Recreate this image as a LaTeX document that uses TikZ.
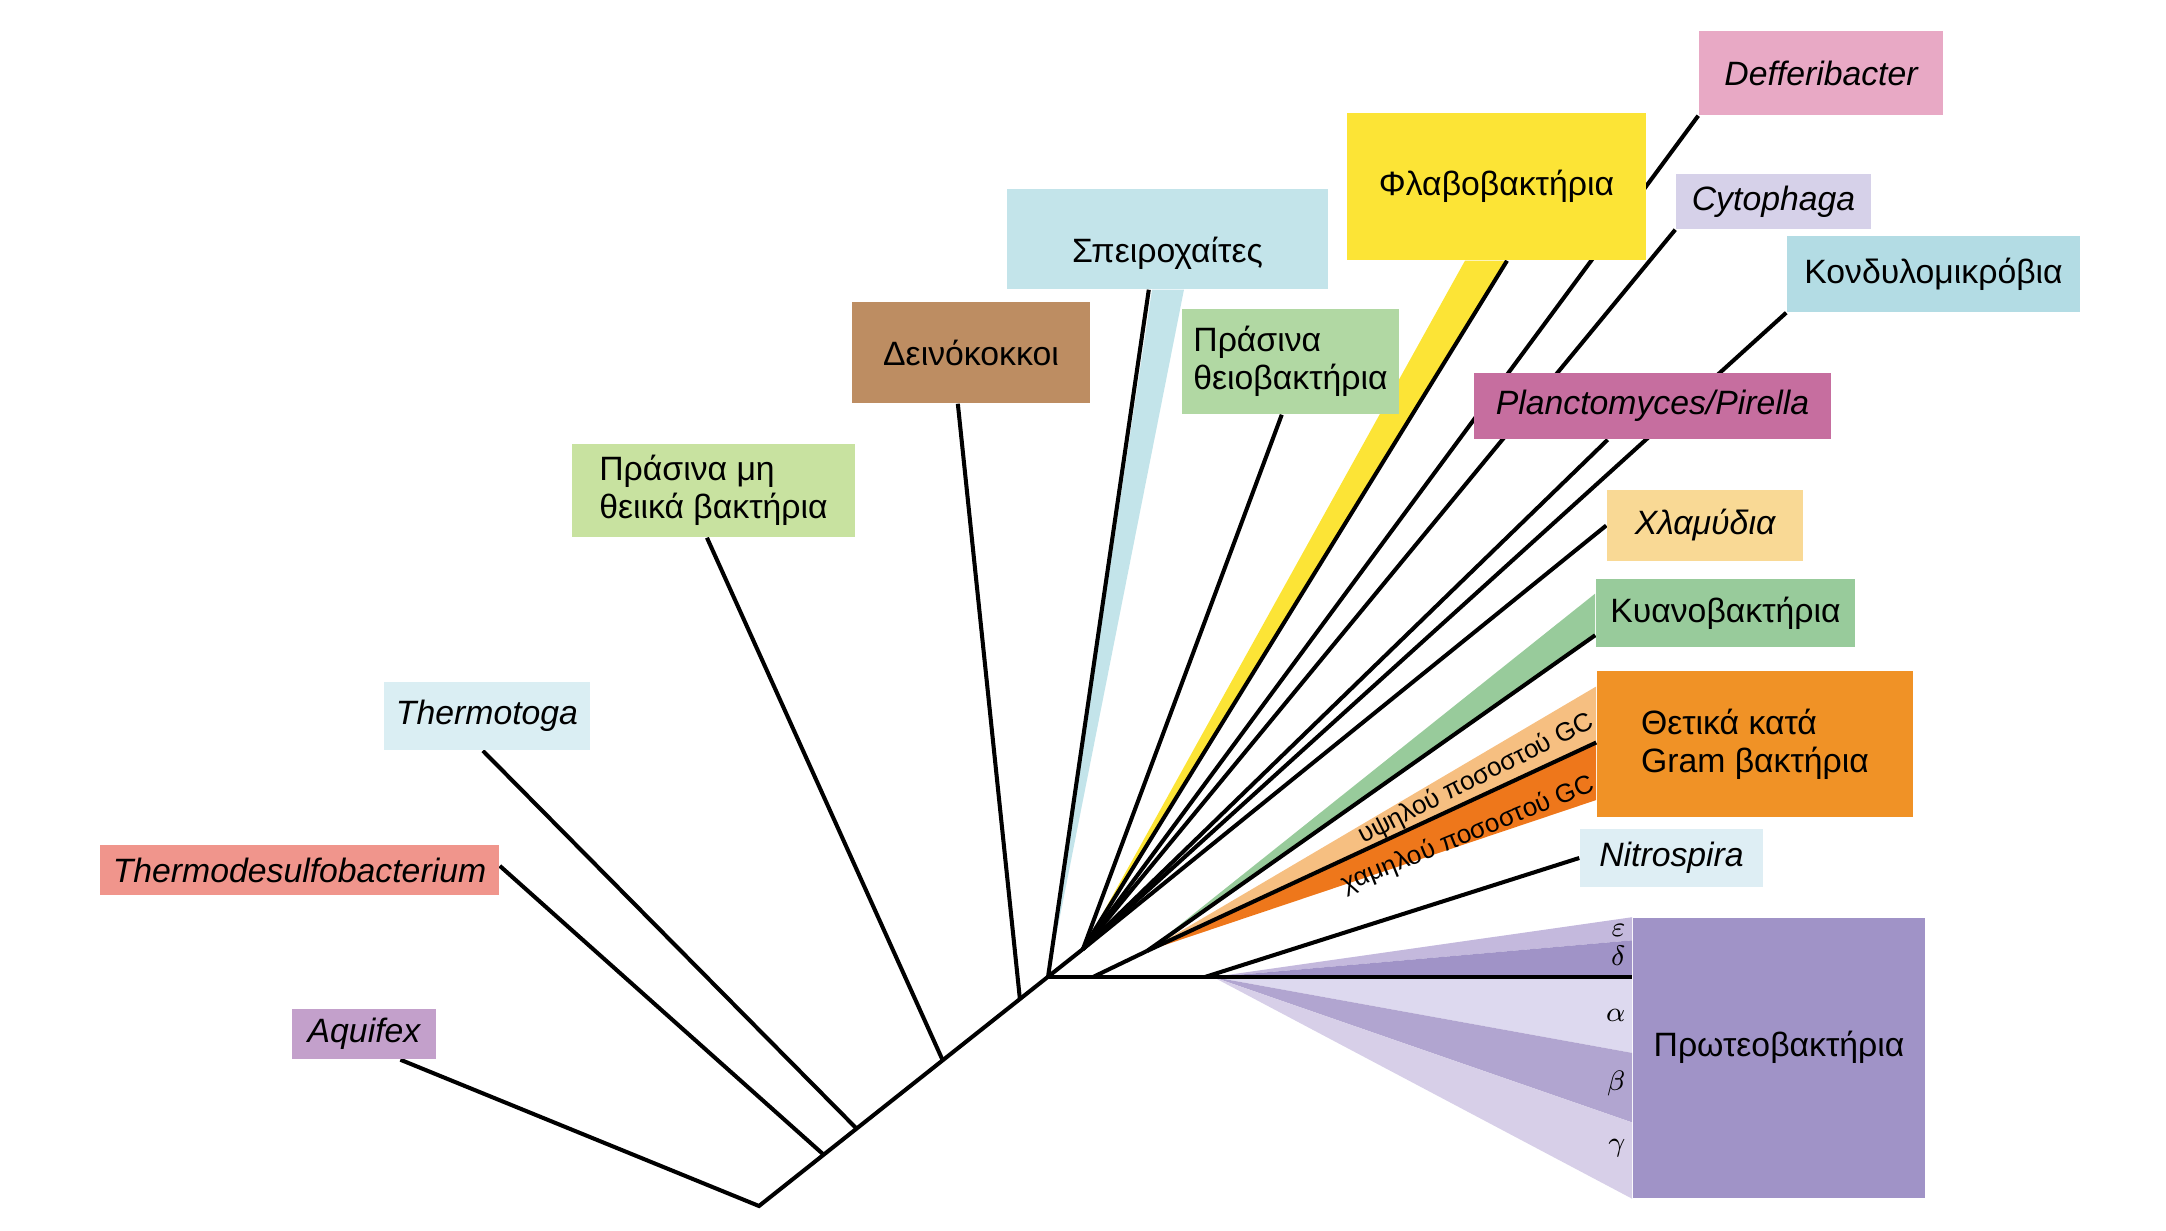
\documentclass[tikz,border=0pt]{standalone}
\usepackage{fontspec}
\setmainfont{Liberation Sans}
\usepackage{tikz}
\usetikzlibrary{calc,backgrounds}
\definecolor{cdeffer}{HTML}{E8A9C5}
\definecolor{cflavo}{HTML}{FCE436}
\definecolor{ccyto}{HTML}{D6D1E9}
\definecolor{ckondy}{HTML}{B3DCE4}
\definecolor{cspiro}{HTML}{C3E4EA}
\definecolor{cgsulf}{HTML}{B1D8A3}
\definecolor{cdeino}{HTML}{BD8D62}
\definecolor{cplanc}{HTML}{C66E9F}
\definecolor{cgnons}{HTML}{C8E2A0}
\definecolor{cchlam}{HTML}{F9D995}
\definecolor{ccyano}{HTML}{98CB9B}
\definecolor{cgram}{HTML}{F09226}
\definecolor{chigh}{HTML}{F6BF81}
\definecolor{clow}{HTML}{EE771B}
\definecolor{ctmtoga}{HTML}{DAEEF3}
\definecolor{cnitro}{HTML}{DEEEF4}
\definecolor{ctdesulf}{HTML}{F0958C}
\definecolor{caquif}{HTML}{C3A0CB}
\definecolor{cproteo}{HTML}{A093C7}
\definecolor{ceps}{HTML}{C4B9DD}
\definecolor{calpha}{HTML}{DDD9EF}
\definecolor{cbeta}{HTML}{B1A5D0}
\definecolor{cgamma}{HTML}{D7CFE8}

\begin{document}
\begin{tikzpicture}[
x=0.01cm, y=-0.01cm,
box/.style={
	inner sep=0pt,
	align=left,
	font=\fontsize{9.6}{10.8}\selectfont
},
branch/.style={
	line width=1.15pt
},
gc/.style={
	inner sep=0pt,
	font=\fontsize{7.4}{8}\selectfont
},
band/.style={
	inner sep=0pt,
	anchor=east,
	font=\fontsize{8.5}{9}\selectfont
}
]
\useasboundingbox (0,0) rectangle (2166,1231);

\node[box,fill=cdeffer,minimum width=2.44cm,minimum height=0.84cm] (deffer) at (1821,73) {\itshape Defferibacter};
\node[box,fill=cflavo,minimum width=2.99cm,minimum height=1.47cm] (flavo) at (1496.5,186.5) {Φλαβοβακτήρια};
\node[box,fill=ccyto,minimum width=1.95cm,minimum height=0.55cm] (cyto) at (1773.5,201.5) {\itshape Cytophaga};
\node[box,fill=ckondy,minimum width=2.93cm,minimum height=0.76cm] (kondy) at (1933.5,274) {Κονδυλομικρόβια};
\node[box,fill=cspiro,minimum width=3.21cm,minimum height=1.00cm,text height=0.53cm] (spiro) at (1167.5,239) {Σπειροχαίτες};
\node[box,fill=cgsulf,minimum width=2.17cm,minimum height=1.05cm] (gsulf) at (1290.5,361.5) {Πράσινα\\θειοβακτήρια};
\node[box,fill=cdeino,minimum width=2.38cm,minimum height=1.01cm] (deino) at (971,352.5) {Δεινόκοκκοι};
\node[box,fill=cplanc,minimum width=3.57cm,minimum height=0.66cm] (planc) at (1652.5,406) {\itshape Planctomyces/Pirella};
\node[box,fill=cgnons,minimum width=2.83cm,minimum height=0.93cm] (gnons) at (713.5,490.5) {Πράσινα μη\\θειικά βακτήρια};
\node[box,fill=cchlam,minimum width=1.96cm,minimum height=0.71cm] (chlam) at (1705,525.5) {\itshape Χλαμύδια};
\node[box,fill=ccyano,minimum width=2.59cm,minimum height=0.68cm] (cyano) at (1725.5,613) {Κυανοβακτήρια};
\node[box,fill=cgram,minimum width=3.16cm,minimum height=1.46cm] (gram) at (1755,744) {Θετικά κατά\\Gram βακτήρια};
\node[box,fill=ctmtoga,minimum width=2.06cm,minimum height=0.68cm] (tmtoga) at (487,716) {\itshape Thermotoga};
\node[box,fill=cnitro,minimum width=1.83cm,minimum height=0.58cm] (nitro) at (1671.5,858) {\itshape Nitrospira};
\node[box,fill=ctdesulf,minimum width=3.99cm,minimum height=0.50cm] (tdesulf) at (299.5,870) {\itshape Thermodesulfobacterium};
\node[box,fill=cproteo,minimum width=2.92cm,minimum height=2.80cm,text depth=0.29cm] (proteo) at (1779,1058) {Πρωτεοβακτήρια};
\node[box,fill=caquif,minimum width=1.44cm,minimum height=0.50cm] (aquif) at (364,1034) {\itshape Aquifex};

\coordinate (root) at (759,1206);
\coordinate (j1) at (824,1155);
\coordinate (j2) at (857,1129);
\coordinate (j3) at (943,1061);
\coordinate (j4) at (1020,1000);
\coordinate (hub) at (1048,977);
\coordinate (up) at (1083,949);
\coordinate (n1) at (1093,977);
\coordinate (cg) at (1147,951);
\coordinate (n2) at (1205,977);
\coordinate (pa) at (1213,977);
\coordinate (pmid) at (hub -| proteo.west);

\begin{scope}[on background layer]
\fill[cspiro] (hub) -- ($(spiro.south west)!0.452!(spiro.south east)$) -- ($(spiro.south west)!0.551!(spiro.south east)$) -- cycle;
\fill[cflavo] (up) -- ($(flavo.south west)!0.395!(flavo.south east)$) -- ($(flavo.south west)!0.53!(flavo.south east)$) -- cycle;
\fill[ccyano] (cg) -- ($(cyano.north west)!0.22!(cyano.south west)$) -- ($(cyano.north west)!0.82!(cyano.south west)$) -- cycle;
\fill[chigh] (cg) -- ($(gram.north west)!0.11!(gram.south west)$) -- ($(gram.north west)!0.49!(gram.south west)$) -- cycle;
\fill[clow] (cg) -- ($(gram.north west)!0.49!(gram.south west)$) -- ($(gram.north west)!0.88!(gram.south west)$) -- cycle;
\fill[ceps] (pa) -- (proteo.north west) -- ($(proteo.north west)!0.082!(proteo.south west)$) -- cycle;
\fill[cproteo] (pa) -- ($(proteo.north west)!0.082!(proteo.south west)$) -- (pmid) -- cycle;
\fill[calpha] (pa) -- (pmid) -- ($(proteo.north west)!0.482!(proteo.south west)$) -- cycle;
\fill[cbeta] (pa) -- ($(proteo.north west)!0.482!(proteo.south west)$) -- ($(proteo.north west)!0.729!(proteo.south west)$) -- cycle;
\fill[cgamma] (pa) -- ($(proteo.north west)!0.729!(proteo.south west)$) -- (proteo.south west) -- cycle;

\draw[branch] ($(aquif.south west)!0.75!(aquif.south east)$) -- (root) -- (up);
\draw[branch] ($(tdesulf.north east)!0.42!(tdesulf.south east)$) -- (j1);
\draw[branch] ($(tmtoga.south west)!0.48!(tmtoga.south east)$) -- (j2);
\draw[branch] ($(gnons.south west)!0.477!(gnons.south east)$) -- (j3);
\draw[branch] ($(deino.south west)!0.445!(deino.south east)$) -- (j4);
\draw[branch] ($(spiro.south west)!0.442!(spiro.south east)$) -- (hub);
\draw[branch] (hub) -- (pmid);
\draw[branch] (n1) -- (cg);
\draw[branch] (cg) -- ($(cyano.north west)!0.82!(cyano.south west)$);
\draw[branch] (cg) -- ($(gram.north west)!0.49!(gram.south west)$);
\draw[branch] (n2) -- (nitro.west);
\draw[branch] (up) -- ($(gsulf.south west)!0.46!(gsulf.south east)$);
\draw[branch] (up) -- ($(flavo.south west)!0.535!(flavo.south east)$);
\draw[branch] (up) -- (deffer.south west);
\draw[branch] (up) -- (cyto.south west);
\draw[branch] (up) -- (kondy.south west);
\draw[branch] (up) -- ($(planc.south west)!0.375!(planc.south east)$);
\draw[branch] (up) -- (chlam.west);
\end{scope}

\node[gc,rotate=26.8] (high) at (1476,779) {υψηλού ποσοστού GC};
\node[gc,rotate=22.2] (low) at (1468,835) {χαμηλού ποσοστού GC};

\node[band] (eps) at (1626,930) {$\varepsilon$};
\node[band] (delta) at (1626,956) {$\delta$};
\node[band] (alpha) at (1626,1015) {$\alpha$};
\node[band] (beta) at (1626,1083) {$\beta$};
\node[band] (gamma) at (1626,1148) {$\gamma$};

\end{tikzpicture}
\end{document}
